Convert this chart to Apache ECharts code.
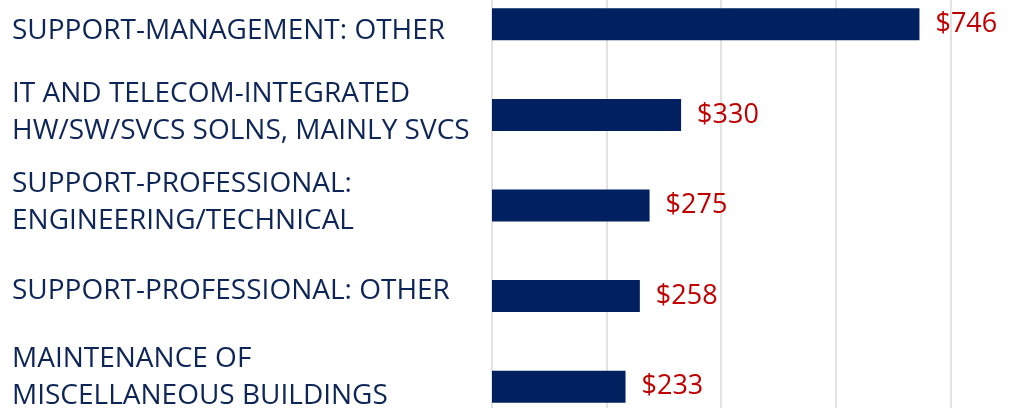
<!DOCTYPE html>
<html><head><meta charset="utf-8">
<script src="https://cdn.jsdelivr.net/npm/echarts@6/dist/echarts.min.js"></script>
<style>html,body{margin:0;padding:0;background:#fff;overflow:hidden;width:1019px;height:408px;position:relative}#c{position:absolute;left:0;top:-21px;width:1065px;height:453px}</style>
</head><body><div id="c"></div>
<script>
const categories = [
  "SUPPORT-MANAGEMENT: OTHER",
  "IT AND TELECOM-INTEGRATED\nHW/SW/SVCS SOLNS, MAINLY SVCS",
  "SUPPORT-PROFESSIONAL:\nENGINEERING/TECHNICAL",
  "SUPPORT-PROFESSIONAL: OTHER",
  "MAINTENANCE OF\nMISCELLANEOUS BUILDINGS"
];
const values = [746, 330, 275, 258, 233];

// vertical nudge (px, upward; negative = downward) of each category label, layout only
const labelLift = [-7, 2, 3, 5, 9];

const rich = { t: { fontFamily: 'Open Sans', fontSize: 28, lineHeight: 37, color: '#0E2557' } };
labelLift.forEach((h, i) => { rich['s' + i] = { fontSize: 1, lineHeight: Math.max(1, Math.abs(h) * 2) }; });

const chart = echarts.init(document.getElementById('c'));
chart.setOption({
  animation: false,
  grid: { left: 492, right: 0, top: 0, bottom: 0, containLabel: false, outerBoundsMode: 'none' },
  xAxis: {
    type: 'value', min: 0, max: 1000, interval: 200,
    axisLabel: { show: false }, axisLine: { show: false }, axisTick: { show: false },
    splitLine: { show: true, lineStyle: { color: '#D9D9D9', width: 1.5 } }
  },
  yAxis: {
    type: 'category', inverse: true, data: categories,
    axisLine: { show: false }, axisTick: { show: false },
    axisLabel: {
      align: 'left', margin: 480, color: '#0E2557',
      fontFamily: 'Open Sans', fontSize: 28, lineHeight: 37,
      formatter: (v, i) => {
        const body = v.split('\n').map(s => '{t|' + s + '}').join('\n');
        const sp = '{s' + i + '| }';
        if (labelLift[i] > 0) return body + '\n' + sp;
        if (labelLift[i] < 0) return sp + '\n' + body;
        return body;
      },
      rich: rich
    }
  },
  series: [{
    type: 'bar', data: values, barWidth: 32,
    itemStyle: { color: '#002060' },
    label: {
      show: true, position: 'right', distance: 16,
      formatter: p => '$' + p.value,
      color: '#C00000', fontFamily: 'Open Sans', fontSize: 27
    }
  }]
});
</script></body></html>
